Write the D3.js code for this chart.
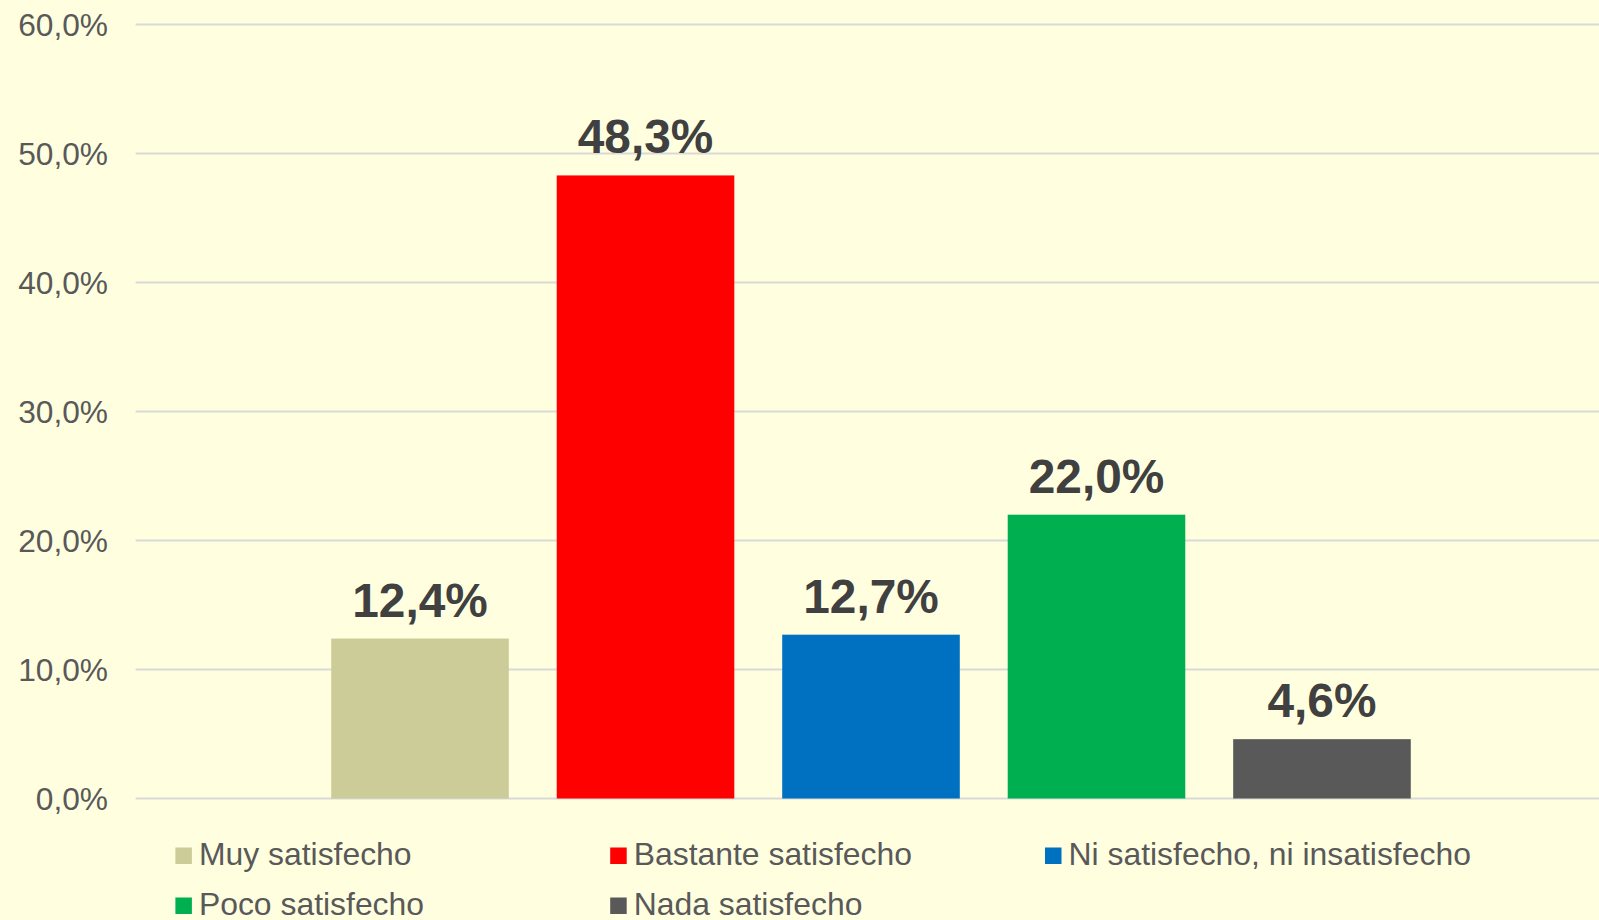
<!DOCTYPE html>
<html>
<head>
<meta charset="utf-8">
<script src="https://cdn.jsdelivr.net/npm/d3@7"></script>
<style>
  html, body { margin: 0; padding: 0; background: #FFFFE0; }
  svg { display: block; font-family: "Liberation Sans", Arial, sans-serif; }
</style>
</head>
<body>
<div id="chart"></div>
<script>
// data
var categories = ['Muy satisfecho', 'Bastante satisfecho', 'Ni satisfecho, ni insatisfecho', 'Poco satisfecho', 'Nada satisfecho'];
var values = [0.124, 0.483, 0.127, 0.220, 0.046];
var colors = ['#CCCC99', '#FF0000', '#0070C0', '#00B050', '#595959'];
var yTicks = [0, 0.1, 0.2, 0.3, 0.4, 0.5, 0.6];

var width = 1599;
var height = 920;

var svg = d3.select('#chart')
  .append('svg')
  .attr('width', width)
  .attr('height', height);

svg.append('rect')
  .attr('width', width)
  .attr('height', height)
  .attr('fill', '#FFFFE0');

var y = d3.scaleLinear()
  .domain([0, 0.6])
  .range([798.5, 24.5]);

var x = d3.scaleBand()
  .domain(categories)
  .range([139, 1603])
  .paddingInner(0.2125)
  .paddingOuter(0.8525);

var fmt = function(v) { return d3.format('.1f')(v * 100).replace('.', ',') + '%'; };

// gridlines
svg.append('g')
  .selectAll('line')
  .data(yTicks)
  .enter()
  .append('line')
  .attr('x1', 135.6)
  .attr('x2', width)
  .attr('y1', function(d) { return y(d); })
  .attr('y2', function(d) { return y(d); })
  .attr('stroke', '#D9D9D9')
  .attr('stroke-width', 2);

// y labels
svg.append('g')
  .selectAll('text')
  .data(yTicks)
  .enter()
  .append('text')
  .attr('x', 108)
  .attr('y', function(d) { return y(d) + 11; })
  .attr('text-anchor', 'end')
  .attr('font-size', 31.7)
  .attr('fill', '#595959')
  .text(fmt);

// bars
svg.append('g')
  .selectAll('rect')
  .data(values)
  .enter()
  .append('rect')
  .attr('x', function(d, i) { return x(categories[i]); })
  .attr('width', x.bandwidth())
  .attr('y', function(d) { return y(d); })
  .attr('height', function(d) { return y(0) - y(d); })
  .attr('fill', function(d, i) { return colors[i]; });

// value labels
svg.append('g')
  .selectAll('text')
  .data(values)
  .enter()
  .append('text')
  .attr('x', function(d, i) { return x(categories[i]) + x.bandwidth() / 2; })
  .attr('y', function(d) { return y(d) - 22; })
  .attr('text-anchor', 'middle')
  .attr('font-size', 47.8)
  .attr('font-weight', 'bold')
  .attr('fill', '#404040')
  .text(fmt);

// legend, 3 per row
var legendX = 175.4;
var legendColW = 434.8;
var legendY = 865;
var legendRowH = 50;

var legend = svg.append('g')
  .selectAll('g')
  .data(categories)
  .enter()
  .append('g')
  .attr('transform', function(d, i) {
    var col = i % 3;
    var row = Math.floor(i / 3);
    return 'translate(' + (legendX + col * legendColW) + ',' + (legendY + row * legendRowH) + ')';
  });

legend.append('rect')
  .attr('x', 0)
  .attr('y', -17.5)
  .attr('width', 16.5)
  .attr('height', 16.5)
  .attr('fill', function(d, i) { return colors[i]; });

legend.append('text')
  .attr('x', 23.5)
  .attr('y', 0)
  .attr('font-size', 31.9)
  .attr('fill', '#595959')
  .text(function(d) { return d; });
</script>
</body>
</html>
